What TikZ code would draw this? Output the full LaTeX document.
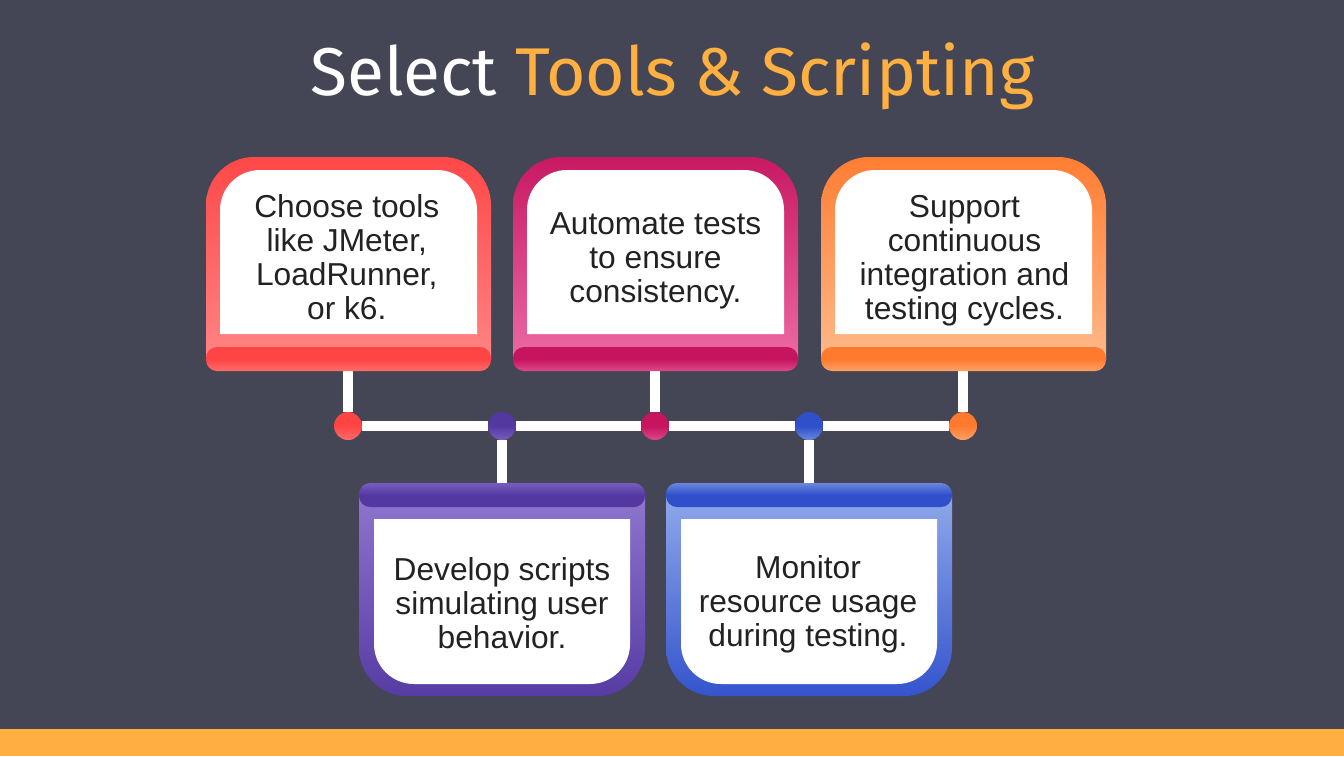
\documentclass[tikz,border=0pt]{standalone}
\usepackage{fontspec}
\setmainfont{Liberation Sans}
\newfontfamily\titlefont{Fira Sans}
\definecolor{bgc}{HTML}{454655}
\definecolor{barc}{HTML}{FFB040}
\definecolor{txt}{HTML}{222222}
\definecolor{redA}{HTML}{FF4444}\definecolor{redB}{HTML}{FF9494}
\definecolor{magA}{HTML}{C6145F}\definecolor{magB}{HTML}{F47FB4}
\definecolor{oraA}{HTML}{FF7A2E}\definecolor{oraB}{HTML}{FFC8A0}
\definecolor{purA}{HTML}{5338A2}\definecolor{purB}{HTML}{9C84D8}
\definecolor{bluA}{HTML}{2F4FCB}\definecolor{bluB}{HTML}{A6BEF2}
\pgfdeclarelayer{under}\pgfdeclarelayer{links}
\pgfsetlayers{under,links,main}
% shadings: 0bp is the bottom of the shape, 100bp its top
\newcommand\mkshades[1]{%
  \pgfdeclareverticalshading{#1bodyup}{100bp}{color(0bp)=(#1B); color(12bp)=(#1B); color(78bp)=(#1A); color(100bp)=(#1A)}%
  \pgfdeclareverticalshading{#1bandup}{100bp}{color(0bp)=(#1B); color(50bp)=(#1A); color(100bp)=(#1A)}%
  \pgfdeclareverticalshading{#1bodydown}{100bp}{color(0bp)=(#1A); color(22bp)=(#1A); color(88bp)=(#1B); color(100bp)=(#1B)}%
  \pgfdeclareverticalshading{#1banddown}{100bp}{color(0bp)=(#1A); color(50bp)=(#1A); color(100bp)=(#1B)}%
  \pgfdeclareverticalshading{#1dot}{100bp}{color(0bp)=(#1B); color(50bp)=(#1A); color(100bp)=(#1A)}%
}
\mkshades{red}\mkshades{mag}\mkshades{ora}\mkshades{pur}\mkshades{blu}
\tikzset{
  x=1pt,y=-1pt,
  cardtext/.style={text=txt,align=center,font=\fontsize{31.7}{34}\selectfont,inner sep=0pt},
  link/.style={draw=white,line width=10pt},
  dotnode/.style={circle,minimum size=28pt,inner sep=0pt,shading=#1dot},
  anchorbox/.style={minimum width=285pt,minimum height=214pt,inner sep=0pt},
}
% #1 name, #2 left x, #3 colour stem, #4 text x, #5 text y, #6 text
\newcommand\cardup[6]{%
  \node[anchorbox,anchor=north west] (#1) at (#2,157) {};
  \path[shading=#3bodyup]
    (#2,360) -- (#2,205) arc[start angle=180,end angle=90,radius=48pt] -- ++(189,0)
    arc[start angle=90,end angle=0,radius=48pt] -- ++(0,155) -- cycle;
  \path[shading=#3bandup,rounded corners=11pt]
    (#2,347) rectangle ++(285,24);
  \path[fill=white] (#2+14,334) -- (#2+14,210) arc[start angle=180,end angle=90,radius=40pt]
    -- ++(177,0) arc[start angle=90,end angle=0,radius=40pt] -- ++(0,124) -- cycle;
  \node[cardtext] (#1t) at (#4,#5) {#6};
}
\newcommand\carddown[6]{%
  \node[anchorbox,anchor=north west] (#1) at (#2,483) {};
  \path[shading=#3bodydown]
    (#2,495) -- (#2,648) arc[start angle=180,end angle=270,radius=48pt] -- ++(190,0)
    arc[start angle=270,end angle=360,radius=48pt] -- ++(0,-153) -- cycle;
  \path[shading=#3banddown,rounded corners=11pt]
    (#2,483) rectangle ++(286,24);
  \path[fill=white] (#2+15,519) -- (#2+15,644) arc[start angle=180,end angle=270,radius=40pt]
    -- ++(176,0) arc[start angle=270,end angle=360,radius=40pt] -- ++(0,-125) -- cycle;
  \node[cardtext] (#1t) at (#4,#5) {#6};
}
\begin{document}
\begin{tikzpicture}
\useasboundingbox (0,0) rectangle (1344,756);
\begin{pgfonlayer}{under}
  \fill[bgc] (0,0) rectangle (1344,756);
  \fill[barc] (0,729) rectangle (1344,756);
\end{pgfonlayer}
\node[text=white,font=\titlefont\fontsize{67.6}{68}\selectfont,inner sep=0pt,anchor=base] (title) at (672.5,95)
  {Select \textcolor{barc}{Tools \& Scripting}};

\cardup{c1}{206}{red}{346.8}{257}{Choose tools\\like JMeter,\\LoadRunner,\\or k6.}
\cardup{c2}{513}{mag}{655.5}{260.5}{Automate tests\\to ensure\\consistency.}
\cardup{c3}{821}{ora}{964.5}{261}{Support\\continuous\\integration and\\testing cycles.}
\carddown{c4}{359}{pur}{502}{603}{Develop scripts\\simulating user\\behavior.}
\carddown{c5}{666}{blu}{808}{604}{Monitor\\resource usage\\during testing.}

\node[dotnode=red] (d1) at (348,426) {};
\node[dotnode=pur] (d2) at (502,426) {};
\node[dotnode=mag] (d3) at (655,426) {};
\node[dotnode=blu] (d4) at (809,426) {};
\node[dotnode=ora] (d5) at (963,426) {};

\begin{pgfonlayer}{links}
  \draw[link] (d1) -- (d2);
  \draw[link] (d2) -- (d3);
  \draw[link] (d3) -- (d4);
  \draw[link] (d4) -- (d5);
  \draw[link] (d1) -- (d1 |- c1.south);
  \draw[link] (d3) -- (d3 |- c2.south);
  \draw[link] (d5) -- (d5 |- c3.south);
  \draw[link] (d2) -- (d2 |- c4.north);
  \draw[link] (d4) -- (d4 |- c5.north);
\end{pgfonlayer}
\end{tikzpicture}
\end{document}
